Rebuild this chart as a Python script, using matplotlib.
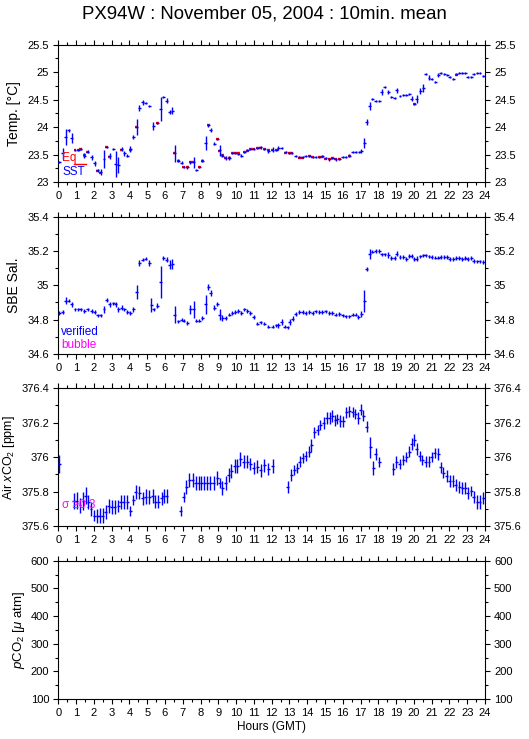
import numpy as np
import matplotlib.pyplot as plt
from matplotlib.ticker import MultipleLocator, FuncFormatter

# 10 minute means: hours (GMT), value, std

sst_t = [0.06, 0.24, 0.41, 0.60, 0.75, 0.94, 1.12, 1.25, 1.46, 1.65, 1.87, 2.06, 2.21, 2.38, 2.57, 2.72,
         2.90, 3.09, 3.22, 3.37, 3.56, 3.71, 3.88, 4.06, 4.21, 4.40, 4.55, 4.74, 4.93, 5.11, 5.34, 5.56,
         5.75, 5.90, 6.09, 6.27, 6.42, 6.55, 6.74, 6.93, 7.06, 7.25, 7.43, 7.62, 7.77, 7.92, 8.09, 8.28,
         8.43, 8.58, 8.76, 8.93, 9.08, 9.23, 9.42, 9.61, 9.78, 9.96, 10.13, 10.30, 10.45, 10.64, 10.81,
         10.99, 11.18, 11.40, 11.59, 11.81, 12.06, 12.25, 12.38, 12.57, 12.80, 12.99, 13.14, 13.36, 13.55,
         13.74, 13.93, 14.11, 14.30, 14.49, 14.67, 14.86, 15.05, 15.24, 15.42, 15.61, 15.80, 15.99, 16.17,
         16.36, 16.55, 16.73, 16.92, 17.05, 17.20, 17.35, 17.52, 17.67, 17.86, 18.04, 18.19, 18.36, 18.55,
         18.74, 18.93, 19.04, 19.22, 19.39, 19.58, 19.73, 19.88, 20.01, 20.16, 20.35, 20.52, 20.67, 20.85,
         21.00, 21.19, 21.38, 21.51, 21.70, 21.88, 22.03, 22.22, 22.39, 22.54, 22.73, 22.88, 23.04, 23.23,
         23.38, 23.57, 23.72, 23.91]
sst = [23.37, 23.52, 23.82, 23.94, 23.80, 23.58, 23.58, 23.60, 23.48, 23.55, 23.45, 23.34, 23.21, 23.18,
       23.42, 23.64, 23.47, 23.60, 23.33, 23.31, 23.60, 23.52, 23.48, 23.60, 23.82, 24.00, 24.35, 24.45,
       24.44, 24.39, 24.02, 24.08, 24.33, 24.55, 24.48, 24.28, 24.30, 23.52, 23.39, 23.35, 23.28, 23.27,
       23.36, 23.36, 23.22, 23.28, 23.39, 23.71, 24.03, 23.95, 23.70, 23.79, 23.58, 23.48, 23.44, 23.44,
       23.53, 23.53, 23.51, 23.48, 23.54, 23.58, 23.60, 23.60, 23.62, 23.63, 23.60, 23.56, 23.59, 23.59,
       23.62, 23.62, 23.54, 23.53, 23.53, 23.48, 23.45, 23.45, 23.47, 23.48, 23.45, 23.45, 23.45, 23.47,
       23.44, 23.41, 23.44, 23.41, 23.42, 23.45, 23.45, 23.48, 23.55, 23.55, 23.55, 23.56, 23.71, 24.09,
       24.39, 24.51, 24.48, 24.48, 24.64, 24.73, 24.64, 24.55, 24.53, 24.67, 24.56, 24.58, 24.58, 24.60,
       24.52, 24.42, 24.51, 24.66, 24.71, 24.96, 24.90, 24.87, 24.82, 24.95, 24.99, 24.96, 24.95, 24.91,
       24.88, 24.96, 24.99, 24.99, 24.98, 24.91, 24.91, 24.96, 24.99, 24.99, 24.93]
sst_err = [0.02, 0.10, 0.14, 0.03, 0.09, 0.02, 0.02, 0.02, 0.05, 0.03, 0.05, 0.04, 0.02, 0.06, 0.17, 0.02,
           0.05, 0.02, 0.24, 0.14, 0.03, 0.04, 0.03, 0.05, 0.03, 0.15, 0.06, 0.05, 0.02, 0.02, 0.08, 0.02,
           0.21, 0.02, 0.05, 0.04, 0.06, 0.15, 0.02, 0.03, 0.02, 0.03, 0.03, 0.10, 0.02, 0.02, 0.03, 0.13,
           0.03, 0.04, 0.03, 0.02, 0.10, 0.03, 0.04, 0.04, 0.02, 0.02, 0.02, 0.03, 0.02, 0.02, 0.02, 0.02,
           0.02, 0.02, 0.02, 0.04, 0.05, 0.02, 0.03, 0.02, 0.02, 0.02, 0.02, 0.02, 0.02, 0.02, 0.02, 0.02,
           0.02, 0.02, 0.02, 0.02, 0.02, 0.02, 0.02, 0.02, 0.02, 0.02, 0.02, 0.03, 0.02, 0.02, 0.02, 0.04,
           0.09, 0.05, 0.07, 0.02, 0.02, 0.02, 0.05, 0.02, 0.03, 0.02, 0.02, 0.05, 0.02, 0.02, 0.02, 0.02,
           0.04, 0.02, 0.07, 0.05, 0.08, 0.02, 0.04, 0.02, 0.02, 0.04, 0.02, 0.02, 0.02, 0.02, 0.02, 0.02,
           0.02, 0.02, 0.02, 0.02, 0.02, 0.02, 0.02, 0.02, 0.02]

eq_t = [0.94, 1.12, 1.25, 1.46, 1.65, 2.21, 2.38, 2.72, 2.90, 3.56, 4.06, 4.40, 5.56, 6.55, 6.74, 7.06,
        7.25, 7.43, 7.62, 7.92, 8.09, 8.43, 8.93, 9.08, 9.23, 9.42, 9.61, 9.78, 9.96, 10.13, 10.45, 10.64,
        10.81, 10.99, 11.18, 11.40, 11.59, 11.81, 12.06, 12.25, 12.80, 12.99, 13.14, 13.55, 13.74, 14.11,
        14.30, 14.67, 14.86, 15.05, 15.24, 15.42, 15.61, 15.80, 16.36, 20.01, 22.39]
eq = [23.58, 23.58, 23.60, 23.49, 23.55, 23.20, 23.17, 23.63, 23.46, 23.59, 23.59, 24.00, 24.08, 23.52,
      23.39, 23.28, 23.27, 23.36, 23.37, 23.28, 23.39, 24.03, 23.79, 23.57, 23.50, 23.44, 23.43, 23.53,
      23.53, 23.52, 23.54, 23.57, 23.60, 23.61, 23.62, 23.62, 23.61, 23.58, 23.58, 23.59, 23.53, 23.53,
      23.52, 23.44, 23.44, 23.47, 23.46, 23.46, 23.46, 23.42, 23.41, 23.43, 23.42, 23.42, 23.48, 24.42,
      24.95]

sal_t = [0.06, 0.24, 0.41, 0.60, 0.75, 0.94, 1.12, 1.25, 1.46, 1.65,
         1.87, 2.06, 2.21, 2.38, 2.57, 2.72, 2.90, 3.09, 3.22, 3.37,
         3.56, 3.71, 3.88, 4.06, 4.21, 4.40, 4.55, 4.74, 4.93, 5.11,
         5.24, 5.37, 5.56, 5.75, 5.90, 6.09, 6.27, 6.42, 6.55, 6.74,
         6.93, 7.06, 7.25, 7.43, 7.62, 7.77, 7.92, 8.09, 8.28, 8.43,
         8.58, 8.76, 8.93, 9.08, 9.23, 9.42, 9.61, 9.78, 9.96, 10.13,
         10.30, 10.45, 10.64, 10.81, 10.99, 11.18, 11.40, 11.59, 11.81, 12.06,
         12.25, 12.38, 12.57, 12.75, 12.90, 13.03, 13.18, 13.36, 13.55, 13.74,
         13.93, 14.11, 14.30, 14.49, 14.67, 14.86, 15.05, 15.24, 15.42, 15.61,
         15.80, 15.99, 16.17, 16.36, 16.55, 16.73, 16.87, 17.05, 17.20, 17.35,
         17.52, 17.67, 17.86, 18.04, 18.19, 18.36, 18.55, 18.74, 18.93, 19.04,
         19.22, 19.39, 19.58, 19.73, 19.88, 20.01, 20.16, 20.35, 20.52, 20.67,
         20.85, 21.00, 21.19, 21.38, 21.51, 21.70, 21.88, 22.03, 22.22, 22.39,
         22.54, 22.73, 22.88, 23.04, 23.23, 23.38, 23.57, 23.72, 23.91]
sal = [34.840, 34.845, 34.910, 34.910, 34.890, 34.860, 34.860, 34.860, 34.850, 34.860,
       34.850, 34.845, 34.825, 34.825, 34.860, 34.915, 34.890, 34.895, 34.890, 34.860,
       34.870, 34.860, 34.845, 34.840, 34.860, 34.960, 35.130, 35.150, 35.155, 35.130,
       34.885, 34.860, 34.880, 35.020, 35.160, 35.150, 35.120, 35.125, 34.830, 34.790,
       34.800, 34.795, 34.780, 34.860, 34.860, 34.795, 34.795, 34.810, 34.890, 34.990,
       34.955, 34.870, 34.890, 34.830, 34.810, 34.810, 34.830, 34.840, 34.845, 34.850,
       34.840, 34.860, 34.850, 34.840, 34.815, 34.776, 34.785, 34.776, 34.760, 34.760,
       34.767, 34.767, 34.786, 34.760, 34.755, 34.786, 34.805, 34.834, 34.844, 34.844,
       34.838, 34.844, 34.838, 34.848, 34.844, 34.844, 34.848, 34.838, 34.838, 34.829,
       34.833, 34.825, 34.820, 34.820, 34.829, 34.829, 34.815, 34.833, 34.910, 35.094,
       35.183, 35.197, 35.200, 35.200, 35.180, 35.180, 35.177, 35.158, 35.158, 35.183,
       35.164, 35.164, 35.154, 35.172, 35.172, 35.154, 35.154, 35.168, 35.174, 35.174,
       35.168, 35.164, 35.162, 35.162, 35.164, 35.164, 35.164, 35.154, 35.154, 35.158,
       35.158, 35.154, 35.158, 35.154, 35.158, 35.143, 35.140, 35.140, 35.135]
sal_err = [0.010, 0.010, 0.020, 0.010, 0.015, 0.010, 0.010, 0.010, 0.010, 0.010,
           0.010, 0.010, 0.010, 0.010, 0.020, 0.010, 0.015, 0.010, 0.015, 0.015,
           0.015, 0.010, 0.010, 0.010, 0.015, 0.040, 0.020, 0.010, 0.010, 0.020,
           0.040, 0.010, 0.015, 0.095, 0.010, 0.015, 0.025, 0.030, 0.050, 0.010,
           0.010, 0.010, 0.010, 0.025, 0.050, 0.010, 0.010, 0.010, 0.055, 0.015,
           0.015, 0.015, 0.010, 0.030, 0.015, 0.010, 0.010, 0.010, 0.010, 0.010,
           0.010, 0.010, 0.010, 0.010, 0.010, 0.010, 0.010, 0.010, 0.010, 0.010,
           0.010, 0.015, 0.015, 0.010, 0.010, 0.015, 0.015, 0.010, 0.010, 0.010,
           0.010, 0.010, 0.010, 0.010, 0.010, 0.010, 0.010, 0.010, 0.010, 0.010,
           0.010, 0.010, 0.010, 0.010, 0.010, 0.010, 0.010, 0.015, 0.065, 0.012,
           0.030, 0.010, 0.010, 0.010, 0.010, 0.010, 0.015, 0.010, 0.010, 0.015,
           0.010, 0.010, 0.010, 0.010, 0.010, 0.010, 0.015, 0.010, 0.010, 0.010,
           0.010, 0.010, 0.010, 0.010, 0.010, 0.010, 0.010, 0.010, 0.010, 0.010,
           0.010, 0.010, 0.010, 0.010, 0.010, 0.010, 0.010, 0.010, 0.010]

co2_t = [0.06, 0.88, 1.03, 1.22, 1.40, 1.55, 1.69, 1.84, 2.02, 2.19,
         2.34, 2.49, 2.68, 2.85, 3.00, 3.18, 3.37, 3.52, 3.69, 3.88,
         4.06, 4.21, 4.36, 4.55, 4.74, 4.93, 5.11, 5.30, 5.45, 5.62,
         5.81, 5.94, 6.09, 6.89, 7.06, 7.21, 7.36, 7.55, 7.72, 7.90,
         8.05, 8.20, 8.39, 8.56, 8.75, 8.93, 9.08, 9.23, 9.42, 9.59,
         9.74, 9.93, 10.07, 10.24, 10.43, 10.62, 10.81, 10.99, 11.18, 11.40,
         11.59, 11.81, 12.06, 12.90, 13.09, 13.28, 13.43, 13.59, 13.74, 13.93,
         14.11, 14.24, 14.39, 14.58, 14.73, 14.92, 15.09, 15.27, 15.42, 15.57,
         15.70, 15.85, 16.04, 16.21, 16.36, 16.55, 16.70, 16.87, 17.01, 17.16,
         17.35, 17.54, 17.71, 17.86, 18.04, 18.85, 19.02, 19.21, 19.39, 19.58,
         19.73, 19.88, 20.01, 20.16, 20.33, 20.48, 20.67, 20.85, 21.00, 21.17,
         21.36, 21.51, 21.66, 21.85, 22.01, 22.20, 22.35, 22.54, 22.73, 22.88,
         23.04, 23.23, 23.38, 23.57, 23.72, 23.89]
co2 = [375.960, 375.745, 375.747, 375.720, 375.745, 375.775, 375.740, 375.700, 375.660, 375.660,
       375.660, 375.660, 375.683, 375.716, 375.712, 375.712, 375.718, 375.738, 375.738, 375.738,
       375.687, 375.751, 375.796, 375.794, 375.760, 375.770, 375.770, 375.775, 375.742, 375.742,
       375.760, 375.775, 375.776, 375.687, 375.767, 375.825, 375.867, 375.867, 375.848, 375.848,
       375.848, 375.848, 375.848, 375.848, 375.848, 375.877, 375.848, 375.819, 375.848, 375.896,
       375.920, 375.949, 375.949, 375.988, 375.974, 375.974, 375.960, 375.935, 375.945, 375.922,
       375.951, 375.931, 375.949, 375.825, 375.896, 375.926, 375.935, 375.974, 375.993, 376.007,
       376.032, 376.067, 376.143, 376.158, 376.187, 376.200, 376.226, 376.226, 376.236, 376.212,
       376.222, 376.207, 376.207, 376.259, 376.265, 376.261, 376.250, 376.226, 376.275, 376.240,
       376.177, 376.057, 375.935, 376.017, 375.970, 375.931, 375.970, 375.959, 375.984, 376.000,
       376.032, 376.077, 376.100, 376.046, 376.007, 375.984, 375.974, 375.974, 376.000, 376.023,
       376.017, 375.940, 375.910, 375.890, 375.861, 375.861, 375.837, 375.826, 375.822, 375.822,
       375.794, 375.803, 375.767, 375.738, 375.738, 375.765]
co2_err = [0.050, 0.045, 0.050, 0.045, 0.050, 0.050, 0.040, 0.040, 0.030, 0.040,
           0.045, 0.045, 0.040, 0.040, 0.040, 0.040, 0.035, 0.040, 0.040, 0.040,
           0.030, 0.030, 0.040, 0.040, 0.040, 0.045, 0.040, 0.040, 0.040, 0.040,
           0.040, 0.040, 0.040, 0.030, 0.030, 0.040, 0.040, 0.040, 0.040, 0.040,
           0.040, 0.040, 0.040, 0.040, 0.040, 0.040, 0.030, 0.040, 0.040, 0.040,
           0.040, 0.040, 0.040, 0.040, 0.035, 0.035, 0.035, 0.035, 0.040, 0.035,
           0.035, 0.035, 0.040, 0.035, 0.035, 0.030, 0.030, 0.030, 0.030, 0.030,
           0.030, 0.040, 0.030, 0.030, 0.030, 0.035, 0.035, 0.035, 0.035, 0.030,
           0.030, 0.035, 0.030, 0.030, 0.030, 0.030, 0.030, 0.035, 0.030, 0.030,
           0.030, 0.060, 0.040, 0.035, 0.030, 0.035, 0.035, 0.030, 0.030, 0.030,
           0.030, 0.035, 0.035, 0.035, 0.030, 0.030, 0.030, 0.030, 0.030, 0.030,
           0.035, 0.030, 0.030, 0.035, 0.035, 0.035, 0.035, 0.035, 0.035, 0.035,
           0.035, 0.030, 0.035, 0.040, 0.040, 0.035]

hours = list(range(0, 25))
blue = '#0000ff'
red = '#ff0000'
magenta = '#ff00ff'
half = 1.0 / 12  # half of 10 min

plt.rcParams['font.family'] = ['Liberation Sans', 'DejaVu Sans']
plt.rcParams['font.size'] = 8
plt.rcParams['mathtext.fontset'] = 'custom'
plt.rcParams['mathtext.rm'] = 'Liberation Sans'
plt.rcParams['mathtext.it'] = 'Liberation Sans:italic'


def crosses(ax, t, v, e, color, lw=1.0, z=3):
    n = min(len(t), len(v), len(e))
    t = np.array(t[:n])
    v = np.array(v[:n])
    e = np.array(e[:n])
    ax.hlines(v, t - half, t + half, colors=color, lw=lw, zorder=z)
    ax.vlines(t, v - e, v + e, colors=color, lw=lw, zorder=z)


def style(ax, ylim, major, minor):
    ax.set_xlim(0, 24)
    ax.set_ylim(*ylim)
    ax.xaxis.set_minor_locator(MultipleLocator(0.5))
    ax.yaxis.set_major_locator(MultipleLocator(major))
    ax.yaxis.set_minor_locator(MultipleLocator(minor))
    ax.yaxis.set_major_formatter(FuncFormatter(lambda y, p: ('%.2f' % y).rstrip('0').rstrip('.')))
    ax.set_xticks(hours)
    ax.set_xticklabels([str(h) for h in hours])
    ax.tick_params(which='both', direction='out', top=True, right=True, labelright=True,
                   width=0.8, pad=3, labelsize=8)
    ax.tick_params(which='major', length=3.5)
    ax.tick_params(which='minor', length=2)
    for s in ax.spines.values():
        s.set_linewidth(0.8)


fig = plt.figure(figsize=(5.29, 7.39), dpi=100)
left, width = 0.1102, 0.8066
ax1 = fig.add_axes([left, 0.7537, width, 0.1858])
ax2 = fig.add_axes([left, 0.5210, width, 0.1858])
ax3 = fig.add_axes([left, 0.2882, width, 0.1867])
ax4 = fig.add_axes([left, 0.0541, width, 0.1871])

# temperature
crosses(ax1, eq_t, eq, [0] * len(eq), red, lw=1.7, z=2)
crosses(ax1, sst_t, sst, sst_err, blue)
style(ax1, (23, 25.5), 0.5, 0.25)
ax1.set_ylabel('Temp. [°C]', fontsize=10)
ax1.yaxis.set_label_coords(-0.087, 0.5)
ax1.text(0.009, 0.175, 'Eq', color=red, transform=ax1.transAxes, va='center', fontsize=8.5)
ax1.plot([0.036, 0.066], [0.128, 0.128], color=red, lw=1, transform=ax1.transAxes)
ax1.text(0.009, 0.07, 'SST', color=blue, transform=ax1.transAxes, va='center', fontsize=8.5)

# salinity
crosses(ax2, sal_t, sal, sal_err, blue)
style(ax2, (34.6, 35.4), 0.2, 0.1)
ax2.set_ylabel('SBE Sal.', fontsize=10)
ax2.yaxis.set_label_coords(-0.087, 0.5)
ax2.text(0.006, 0.16, 'verified', color=blue, transform=ax2.transAxes, va='center', fontsize=8.5)
ax2.text(0.006, 0.066, 'bubble', color=magenta, transform=ax2.transAxes, va='center', fontsize=8.5)

# air xCO2
crosses(ax3, co2_t, co2, co2_err, blue)
style(ax3, (375.6, 376.4), 0.2, 0.1)
ax3.set_ylabel('Air $\\it{x}$CO$_2$ [ppm]', fontsize=9)
ax3.yaxis.set_label_coords(-0.097, 0.5)
ax3.text(0.008, 0.154, 'σ ≥0.3', color=magenta, transform=ax3.transAxes, va='center', fontsize=8.5)

# pCO2, no data
style(ax4, (100, 600), 100, 50)
ax4.set_ylabel('$\\it{p}$CO$_2$ [$\\mu$ atm]', fontsize=9.5)
ax4.yaxis.set_label_coords(-0.073, 0.5)
ax4.set_xlabel('Hours (GMT)', labelpad=2, fontsize=8.5)

fig.text(0.5, 0.981, 'PX94W : November 05, 2004 : 10min. mean', ha='center', va='center', fontsize=13.4)

plt.savefig('out.png', dpi=100)
plt.close()
